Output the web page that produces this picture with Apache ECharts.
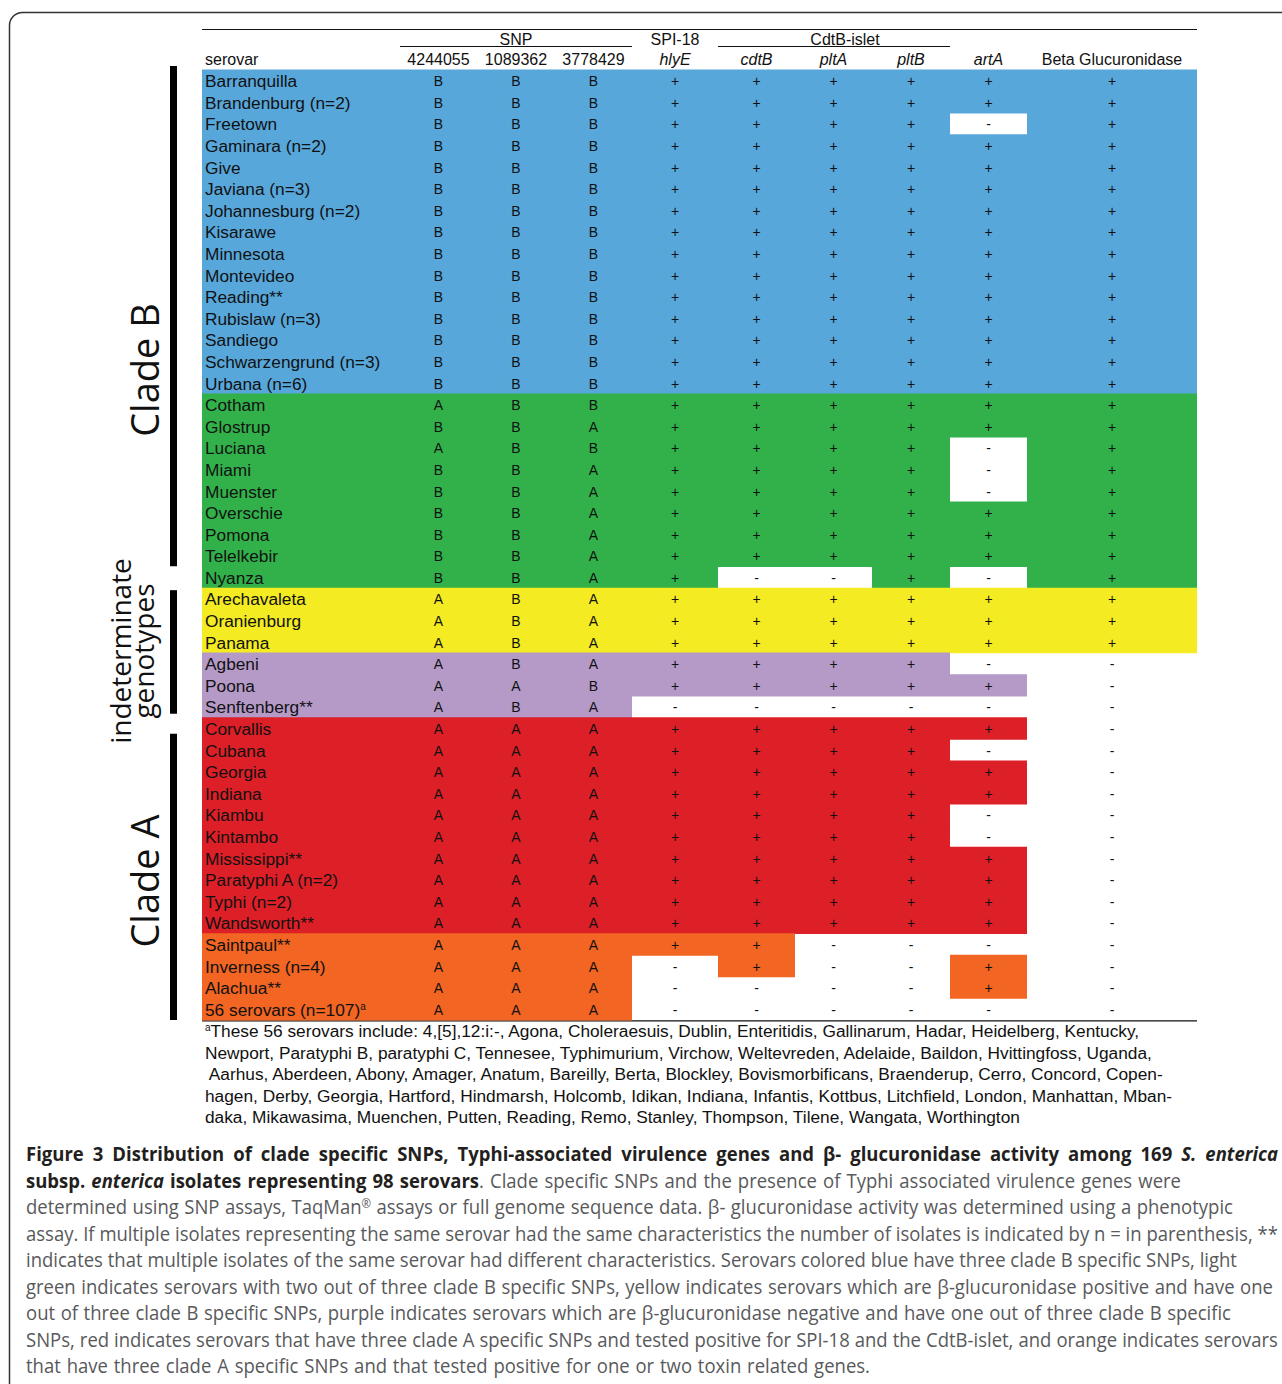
<!DOCTYPE html>
<html><head><meta charset="utf-8">
<script src="https://cdn.jsdelivr.net/npm/echarts@6/dist/echarts.min.js"></script>
<style>html,body{margin:0;padding:0;background:#fff}#c{width:1282px;height:1384px}</style>
</head><body><div id="c"></div>
<script>
// ---------------- data ----------------
const serovars = [
  'Barranquilla','Brandenburg (n=2)','Freetown','Gaminara (n=2)','Give','Javiana (n=3)','Johannesburg (n=2)','Kisarawe','Minnesota','Montevideo','Reading**','Rubislaw (n=3)','Sandiego','Schwarzengrund (n=3)','Urbana (n=6)',
  'Cotham','Glostrup','Luciana','Miami','Muenster','Overschie','Pomona','Telelkebir','Nyanza',
  'Arechavaleta','Oranienburg','Panama',
  'Agbeni','Poona','Senftenberg**',
  'Corvallis','Cubana','Georgia','Indiana','Kiambu','Kintambo','Mississippi**','Paratyphi A (n=2)','Typhi (n=2)','Wandsworth**',
  'Saintpaul**','Inverness (n=4)','Alachua**','56 serovars (n=107)'
];
// colour group of each row
const groups = [
  'B','B','B','B','B','B','B','B','B','B','B','B','B','B','B',
  'G','G','G','G','G','G','G','G','G',
  'Y','Y','Y',
  'P','P','P',
  'R','R','R','R','R','R','R','R','R','R',
  'O','O','O','O'
];
const snp4244055 = ['B','B','B','B','B','B','B','B','B','B','B','B','B','B','B', 'A','B','A','B','B','B','B','B','B', 'A','A','A', 'A','A','A', 'A','A','A','A','A','A','A','A','A','A', 'A','A','A','A'];
const snp1089362 = ['B','B','B','B','B','B','B','B','B','B','B','B','B','B','B', 'B','B','B','B','B','B','B','B','B', 'B','B','B', 'B','A','B', 'A','A','A','A','A','A','A','A','A','A', 'A','A','A','A'];
const snp3778429 = ['B','B','B','B','B','B','B','B','B','B','B','B','B','B','B', 'B','A','B','A','A','A','A','A','A', 'A','A','A', 'A','B','A', 'A','A','A','A','A','A','A','A','A','A', 'A','A','A','A'];
const hlyE  = ['+','+','+','+','+','+','+','+','+','+','+','+','+','+','+', '+','+','+','+','+','+','+','+','+', '+','+','+', '+','+','-', '+','+','+','+','+','+','+','+','+','+', '+','-','-','-'];
const cdtB  = ['+','+','+','+','+','+','+','+','+','+','+','+','+','+','+', '+','+','+','+','+','+','+','+','-', '+','+','+', '+','+','-', '+','+','+','+','+','+','+','+','+','+', '+','+','-','-'];
const pltA  = ['+','+','+','+','+','+','+','+','+','+','+','+','+','+','+', '+','+','+','+','+','+','+','+','-', '+','+','+', '+','+','-', '+','+','+','+','+','+','+','+','+','+', '-','-','-','-'];
const pltB  = ['+','+','+','+','+','+','+','+','+','+','+','+','+','+','+', '+','+','+','+','+','+','+','+','+', '+','+','+', '+','+','-', '+','+','+','+','+','+','+','+','+','+', '-','-','-','-'];
const artA  = ['+','+','-','+','+','+','+','+','+','+','+','+','+','+','+', '+','+','-','-','-','+','+','+','-', '+','+','+', '-','+','-', '+','-','+','+','-','-','+','+','+','+', '-','+','+','-'];
const betaGlucuronidase = ['+','+','+','+','+','+','+','+','+','+','+','+','+','+','+', '+','+','+','+','+','+','+','+','+', '+','+','+', '-','-','-', '-','-','-','-','-','-','-','-','-','-', '-','-','-','-'];

const columnHeaders = ['serovar','4244055','1089362','3778429','hlyE','cdtB','pltA','pltB','artA','Beta Glucuronidase'];
const italicHeaders = ['hlyE','cdtB','pltA','pltB','artA'];
const groupHeaders = [['SNP',1,3,true],['SPI-18',4,4,false],['CdtB-islet',5,7,true]];
const cladeLabels = [['Clade B',0,23],['indeterminate|genotypes',24,29],['Clade A',30,43]];
const footnote = [
  'These 56 serovars include: 4,[5],12:i:-, Agona, Choleraesuis, Dublin, Enteritidis, Gallinarum, Hadar, Heidelberg, Kentucky,',
  'Newport, Paratyphi B, paratyphi C, Tennesee, Typhimurium, Virchow, Weltevreden, Adelaide, Baildon, Hvittingfoss, Uganda,',
  ' Aarhus, Aberdeen, Abony, Amager, Anatum, Bareilly, Berta, Blockley, Bovismorbificans, Braenderup, Cerro, Concord, Copen-',
  'hagen, Derby, Georgia, Hartford, Hindmarsh, Holcomb, Idikan, Indiana, Infantis, Kottbus, Litchfield, London, Manhattan, Mban-',
  'daka, Mikawasima, Muenchen, Putten, Reading, Remo, Stanley, Thompson, Tilene, Wangata, Worthington'
];
const captionLines = [
  [['b','Figure 3 Distribution of clade specific SNPs, Typhi-associated virulence genes and β- glucuronidase activity among 169 '],['bi','S. enterica']],
  [['b','subsp. '],['bi','enterica'],['b',' isolates representing 98 serovars'],['r','. Clade specific SNPs and the presence of Typhi associated virulence genes were']],
  [['r','determined using SNP assays, TaqMan'],['sup','®'],['r',' assays or full genome sequence data. β- glucuronidase activity was determined using a phenotypic']],
  [['r','assay. If multiple isolates representing the same serovar had the same characteristics the number of isolates is indicated by n = in parenthesis, **']],
  [['r','indicates that multiple isolates of the same serovar had different characteristics. Serovars colored blue have three clade B specific SNPs, light']],
  [['r','green indicates serovars with two out of three clade B specific SNPs, yellow indicates serovars which are β-glucuronidase positive and have one']],
  [['r','out of three clade B specific SNPs, purple indicates serovars which are β-glucuronidase negative and have one out of three clade B specific']],
  [['r','SNPs, red indicates serovars that have three clade A specific SNPs and tested positive for SPI-18 and the CdtB-islet, and orange indicates serovars']],
  [['r','that have three clade A specific SNPs and that tested positive for one or two toxin related genes.']]
];

// ---------------- styling / layout ----------------
const groupColors = {B:'#58a7db', G:'#32b14b', Y:'#f4eb22', P:'#b59ac8', R:'#dd1f27', O:'#f26522'};
const colWidths = [198, 77, 78, 77, 86, 77, 77, 78, 77, 170];
const captionLineEnds = [1278, 1181, 1233, 1278, 1237, 1273, 1231, 1278, 870];
const GRID_LEFT = 202, GRID_TOP = 70, GRID_H = 950;
const edges = [0];
colWidths.forEach(w => edges.push(edges[edges.length - 1] + w));
const TOTAL_W = edges[edges.length - 1];
const SANS = 'Arial';
const CAP = 'Open Sans';
const NAME_FS = 17.3, CELL_FS = 14;
const valueCols = [snp4244055, snp1089362, snp3778429, hlyE, cdtB, pltA, pltB, artA, betaGlucuronidase];

const cellData = [], cellMeta = [];
serovars.forEach((name, r) => {
  for (let c = 0; c < columnHeaders.length; c++) {
    const txt = c === 0 ? name : valueCols[c - 1][r];
    const coloured = c === 0 || txt !== '-';
    cellData.push([edges[c], r, edges[c + 1]]);
    cellMeta.push({ text: txt, isName: c === 0, fill: coloured ? groupColors[groups[r]] : null });
  }
});

function renderCell(params, api) {
  const m = cellMeta[params.dataIndex];
  const p0 = api.coord([api.value(0), api.value(1)]);
  const p1 = api.coord([api.value(2), api.value(1)]);
  const h = api.size([0, 1])[1];
  const children = [];
  if (m.fill) {
    const x0 = Math.floor(p0[0]), x1 = Math.ceil(p1[0]);
    children.push({ type: 'rect', shape: { x: x0, y: p0[1] - h / 2 - 0.4, width: x1 - x0, height: h + 0.8 }, style: { fill: m.fill } });
  }
  let text = m.text, rich;
  if (m.isName && /^\d+ serovars \(n=\d+\)$/.test(text)) {
    text = text + '{sup|a}';
    rich = { sup: { fontSize: 10, verticalAlign: 'top', fontFamily: SANS, fill: '#111' } };
  }
  children.push({
    type: 'text',
    style: {
      text: text, rich: rich,
      x: m.isName ? p0[0] + 3 : (p0[0] + p1[0]) / 2,
      y: p0[1] + 0.5,
      align: m.isName ? 'left' : 'center', verticalAlign: 'middle',
      fill: '#111', fontSize: m.isName ? NAME_FS : CELL_FS, fontFamily: SANS
    }
  });
  return { type: 'group', children: children };
}

// ---------------- graphics ----------------
const graphics = [];
const X = i => GRID_LEFT + edges[i];
graphics.push({ type: 'rect', shape: { x: 9.5, y: 12.5, width: 1320, height: 1420, r: 13 }, style: { fill: 'none', stroke: '#333', lineWidth: 1.5 }, silent: true });
graphics.push({ type: 'line', shape: { x1: GRID_LEFT, y1: 29.5, x2: GRID_LEFT + TOTAL_W, y2: 29.5 }, style: { stroke: '#111', lineWidth: 1.2 } });
graphics.push({ type: 'line', shape: { x1: GRID_LEFT, y1: GRID_TOP + GRID_H + 0.8, x2: GRID_LEFT + TOTAL_W, y2: GRID_TOP + GRID_H + 0.8 }, style: { stroke: '#111', lineWidth: 1.2 } });
columnHeaders.forEach((h, i) => {
  const first = i === 0;
  graphics.push({ type: 'text', x: first ? X(0) + 3 : (X(i) + X(i + 1)) / 2, y: 59,
    style: { text: h, align: first ? 'left' : 'center', verticalAlign: 'middle', fill: '#111',
      fontSize: 16, fontFamily: SANS, fontStyle: italicHeaders.includes(h) ? 'italic' : 'normal' } });
});
groupHeaders.forEach(([t, a, b, rule]) => {
  const x0 = X(a), x1 = X(b + 1);
  const cx = t === 'CdtB-islet' ? (x0 + x1) / 2 + 11 : (x0 + x1) / 2;
  graphics.push({ type: 'text', x: cx, y: 39, style: { text: t, align: 'center', verticalAlign: 'middle', fill: '#111', fontSize: 16, fontFamily: SANS } });
  if (rule) graphics.push({ type: 'line', shape: { x1: x0, y1: 46.5, x2: x1, y2: 46.5 }, style: { stroke: '#111', lineWidth: 1.2 } });
});
const rowH = GRID_H / serovars.length;
cladeLabels.forEach(([t, a, b], k) => {
  const pads = [[-4, -22], [2, -4], [16, 0]][k];
  const y0 = GRID_TOP + a * rowH + pads[0], y1 = GRID_TOP + (b + 1) * rowH + pads[1];
  graphics.push({ type: 'rect', shape: { x: 170, y: y0, width: 7, height: y1 - y0 }, style: { fill: '#000' } });
  const parts = t.split('|');
  if (parts.length === 1) {
    const cy = k === 0 ? 370 : 881;
    graphics.push({ type: 'text', x: 144, y: cy, rotation: Math.PI / 2,
      style: { text: t, align: 'center', verticalAlign: 'middle', fill: '#111', fontSize: 38, fontFamily: CAP } });
  } else {
    parts.forEach((p, j) => {
      graphics.push({ type: 'text', x: 120 + j * 23, y: 651, rotation: Math.PI / 2,
        style: { text: p, align: 'center', verticalAlign: 'middle', fill: '#111', fontSize: 28, fontFamily: CAP } });
    });
  }
});
footnote.forEach((line, i) => {
  graphics.push({ type: 'text', x: 205, y: 1031 + i * 21.6,
    style: { text: (i === 0 ? '{sup|a}' : '') + line, align: 'left', verticalAlign: 'middle', fill: '#111', fontSize: NAME_FS, fontFamily: SANS,
      rich: { sup: { fontSize: 10, verticalAlign: 'top', fill: '#111', fontFamily: SANS } } } });
});

// caption: rich text words, horizontally condensed and justified to the reference line ends
const capStyles = {
  r:   { fontSize: 19.5, fontWeight: 'normal', fontStyle: 'normal', fill: '#58595b' },
  b:   { fontSize: 19.5, fontWeight: 'bold', fontStyle: 'normal', fill: '#231f20' },
  bi:  { fontSize: 19.5, fontWeight: 'bold', fontStyle: 'italic', fill: '#231f20' },
  sup: { fontSize: 12, fontWeight: 'normal', fontStyle: 'normal', fill: '#58595b', verticalAlign: 'top' }
};
const mctx = document.createElement('canvas').getContext('2d');
function mw(k, t) {
  const s = capStyles[k];
  mctx.font = s.fontStyle + ' ' + s.fontWeight + ' ' + s.fontSize + 'px "' + CAP + '"';
  return mctx.measureText(t).width;
}
function measureLine(line) { return line.reduce((w, [k, t]) => w + mw(k, t), 0); }
const sCap = 1252 / measureLine(captionLines[3]);
const richCap = {};
Object.keys(capStyles).forEach(k => { richCap[k] = Object.assign({ fontFamily: CAP }, capStyles[k]); });
captionLines.forEach((line, i) => {
  const words = [[]];
  line.forEach(([k, t]) => {
    t.split(' ').forEach((p, j) => {
      if (j > 0) words.push([]);
      if (p) words[words.length - 1].push([k, p]);
    });
  });
  const ws = words.filter(w => w.length).map(w => ({ pieces: w, width: w.reduce((a, [k, t]) => a + mw(k, t), 0) * sCap }));
  const sum = ws.reduce((a, w) => a + w.width, 0);
  const natGap = mw('r', ' ') * sCap;
  let gap = (captionLineEnds[i] - 26 - sum) / (ws.length - 1);
  if (!(gap > natGap * 0.5)) gap = natGap;
  let x = 26;
  ws.forEach(w => {
    graphics.push({ type: 'text', x: x, y: 1154 + i * 26.5, scaleX: sCap, originX: 0, originY: 0,
      style: { text: w.pieces.map(([k, t]) => '{' + k + '|' + t + '}').join(''), rich: richCap,
        align: 'left', verticalAlign: 'middle', fontFamily: CAP, fontSize: 19.5 } });
    x += w.width + gap;
  });
});

// ---------------- chart ----------------
const chart = echarts.init(document.getElementById('c'), null, { renderer: 'svg' });
chart.setOption({
  animation: false,
  backgroundColor: '#fff',
  grid: { left: GRID_LEFT, top: GRID_TOP, width: TOTAL_W, height: GRID_H },
  xAxis: { type: 'value', min: 0, max: TOTAL_W, show: false },
  yAxis: { type: 'category', data: serovars, inverse: true, show: false },
  series: [{ type: 'custom', renderItem: renderCell, data: cellData, silent: true, clip: false }],
  graphic: { elements: graphics }
});
</script>
</body></html>
